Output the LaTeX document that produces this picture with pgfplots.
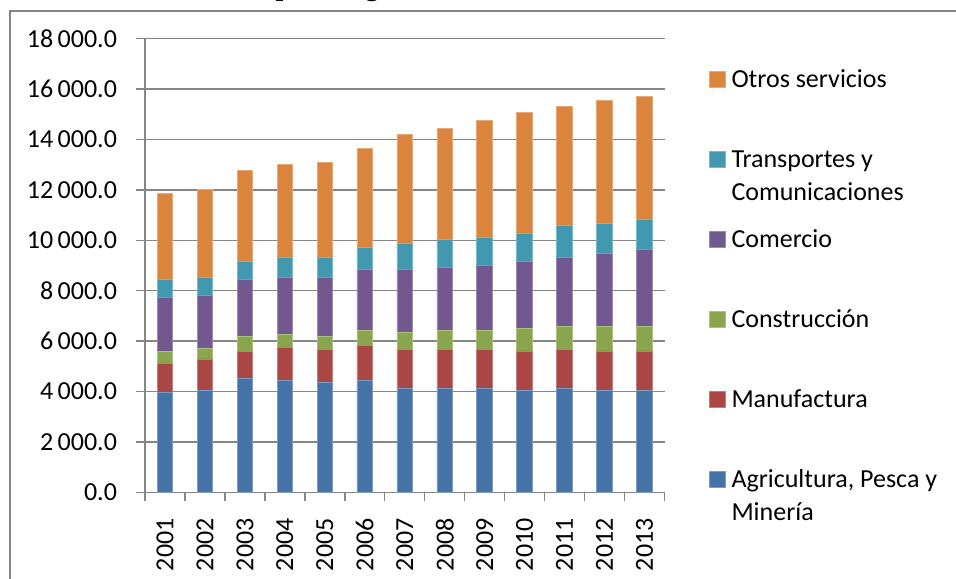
\documentclass[border=0pt]{standalone}
\usepackage{pgfplots}
\pgfplotsset{compat=1.18}
\usepackage{fontspec}
\setmainfont{Carlito}
\newfontfamily\titlefont{Liberation Serif}
\definecolor{cA}{RGB}{69,114,167}
\definecolor{cM}{RGB}{170,70,67}
\definecolor{cC}{RGB}{137,165,78}
\definecolor{cCo}{RGB}{113,88,143}
\definecolor{cT}{RGB}{65,152,175}
\definecolor{cO}{RGB}{219,132,61}
\definecolor{gridgray}{RGB}{134,134,134}
\begin{document}
\begin{tikzpicture}
\useasboundingbox (0,0) rectangle (478bp,289.5bp);
\draw[color=gridgray, line width=1bp] (5bp,284bp) rectangle (490bp,-10bp);
\node[font=\titlefont\bfseries\fontsize{14bp}{16bp}\selectfont, anchor=base] at (242.5bp,291.5bp) {PEA ocupada según sectores de actividad, 2001-2013};
\begin{axis}[
  at={(72.5bp,43.35bp)}, anchor=south west,
  width=259.75bp, height=226.8bp, scale only axis,
  ybar stacked, bar width=0.39,
  xmin=0.5, xmax=13.5, ymin=0, ymax=18000,
  axis x line*=bottom, axis y line*=left,
  axis line style={gridgray, line width=0.7bp},
  tick align=outside, major tick length=4.5bp,
  tick style={gridgray, line width=0.7bp},
  xtick={0.5,1.5,...,13.5},
  x tick label as interval,
  xticklabels={2001,2002,2003,2004,2005,2006,2007,2008,2009,2010,2011,2012,2013},
  xticklabel style={rotate=90, anchor=east, xshift=-5bp, font=\fontsize{13bp}{15bp}\selectfont},
  ytick={0,2000,...,18000},
  yticklabel style={xshift=-6bp, font=\fontsize{13bp}{15bp}\selectfont},
  /pgf/number format/assume math mode=true,
  /pgf/number format/.cd, fixed, fixed zerofill, precision=1, 1000 sep={\,}, /pgfplots/.cd,
  scaled y ticks=false,
  ymajorgrids, grid style={gridgray, line width=0.7bp},
  reverse legend,
  legend image code/.code={\fill[#1] (0bp,0bp) rectangle (8bp,8bp);},
  legend style={at={(1.0843,0.9347)}, anchor=north west, draw=none, fill=none,
    inner xsep=0pt, inner ysep=0pt, row sep=27.5bp, column sep=3bp,
    cells={anchor=base west},
    nodes={inner sep=0pt, text height=9.5bp, text depth=3bp},
    font=\fontsize{13bp}{16.5bp}\selectfont},
]
\addplot[fill=cA, draw=cA!70!white, line width=0.4bp] coordinates {(1,3960) (2,4040) (3,4510) (4,4430) (5,4350) (6,4430) (7,4120) (8,4120) (9,4120) (10,4040) (11,4120) (12,4040) (13,4040)};
\addlegendentry{\begin{tabular}[t]{@{}l@{}}Agricultura, Pesca y\\Minería\end{tabular}}
\addplot[fill=cM, draw=cM!70!white, line width=0.4bp] coordinates {(1,1170) (2,1250) (3,1090) (4,1330) (5,1330) (6,1410) (7,1565) (8,1565) (9,1565) (10,1570) (11,1565) (12,1570) (13,1570)};
\addlegendentry{Manufactura}
\addplot[fill=cC, draw=cC!70!white, line width=0.4bp] coordinates {(1,475) (2,410) (3,570) (4,490) (5,490) (6,570) (7,650) (8,730) (9,730) (10,885) (11,885) (12,965) (13,965)};
\addlegendentry{Construcción}
\addplot[fill=cCo, draw=cCo!70!white, line width=0.4bp] coordinates {(1,2135) (2,2120) (3,2280) (4,2280) (5,2360) (6,2440) (7,2515) (8,2515) (9,2595) (10,2675) (11,2755) (12,2910) (13,3070)};
\addlegendentry{Comercio}
\addplot[fill=cT, draw=cT!70!white, line width=0.4bp] coordinates {(1,715) (2,710) (3,710) (4,780) (5,780) (6,860) (7,1020) (8,1095) (9,1095) (10,1095) (11,1255) (12,1175) (13,1175)};
\addlegendentry{\begin{tabular}[t]{@{}l@{}}Transportes y\\Comunicaciones\end{tabular}}
\addplot[fill=cO, draw=cO!70!white, line width=0.4bp] coordinates {(1,3390) (2,3470) (3,3620) (4,3710) (5,3790) (6,3945) (7,4340) (8,4420) (9,4660) (10,4815) (11,4735) (12,4895) (13,4895)};
\addlegendentry{Otros servicios}
\end{axis}
\end{tikzpicture}
\end{document}
